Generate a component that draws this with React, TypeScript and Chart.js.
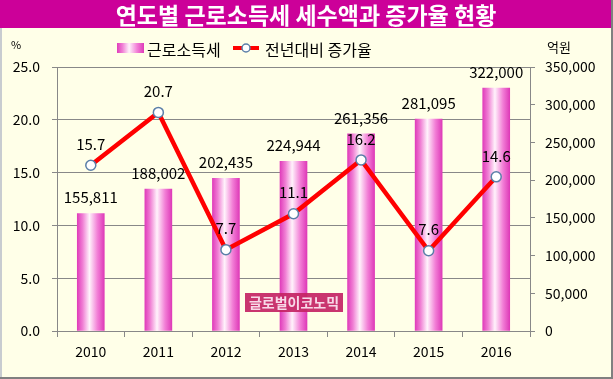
import { useEffect, useRef } from 'react';
import { Chart, registerables } from 'chart.js';

Chart.register(...registerables);

const categories = ['2010', '2011', '2012', '2013', '2014', '2015', '2016'];
const taxValues = [155811, 188002, 202435, 224944, 261356, 281095, 322000];
const growthRates = [15.7, 20.7, 7.7, 11.1, 16.2, 7.6, 14.6];
const taxLabel = '근로소득세';
const rateLabel = '전년대비 증가율';
const titleText = '연도별 근로소득세 세수액과 증가율 현황';
const leftUnit = '%';
const rightUnit = '억원';
const watermarkText = '글로벌이코노믹';

const FONT = '"Noto Sans CJK KR", "Noto Sans", sans-serif';
const W = 613;
const H = 379;
const BAR_W = 27;

function makeBarGradient(c: CanvasRenderingContext2D, x0: number, x1: number) {
  const g = c.createLinearGradient(x0, 0, x1, 0);
  g.addColorStop(0, '#E03DBB');
  g.addColorStop(0.2, '#F07FD4');
  g.addColorStop(0.45, '#FFF2FB');
  g.addColorStop(0.75, '#F27ED6');
  g.addColorStop(1, '#DE3AB8');
  return g;
}

const decorPlugin = {
  id: 'decor',
  beforeDraw(chart: any) {
    const c: CanvasRenderingContext2D = chart.ctx;
    c.save();
    c.fillStyle = '#FFFFE8';
    c.fillRect(0, 0, W, H);
    // title bar
    c.fillStyle = '#CC0099';
    c.fillRect(0, 0, W, 28);
    c.fillStyle = '#FFFFFF';
    c.font = `bold 23px ${FONT}`;
    c.textAlign = 'center';
    c.textBaseline = 'middle';
    c.fillText(titleText, 306, 15);
    // legend
    c.fillStyle = makeBarGradient(c, 117, 144);
    c.fillRect(117, 43, 27, 10);
    c.fillStyle = '#000';
    c.font = `16px ${FONT}`;
    c.textAlign = 'left';
    c.fillText(taxLabel, 147, 50);
    c.strokeStyle = '#FF0000';
    c.lineWidth = 4;
    c.beginPath();
    c.moveTo(233, 48);
    c.lineTo(259, 48);
    c.stroke();
    c.beginPath();
    c.arc(246, 48, 4, 0, Math.PI * 2);
    c.fillStyle = '#FFFFFF';
    c.fill();
    c.lineWidth = 1.5;
    c.strokeStyle = '#5B7FA8';
    c.stroke();
    c.fillStyle = '#000';
    c.fillText(rateLabel, 265, 50);
    // units
    c.font = `11px ${FONT}`;
    c.textAlign = 'center';
    c.fillText(leftUnit, 16, 45);
    c.font = `13px ${FONT}`;
    c.fillText(rightUnit, 559, 47);
    c.restore();
  },
  afterDatasetsDraw(chart: any) {
    const c: CanvasRenderingContext2D = chart.ctx;
    c.save();
    // watermark
    c.fillStyle = 'rgba(196,36,100,0.92)';
    c.fillRect(245, 293, 98, 19);
    c.fillStyle = '#F8D8E8';
    c.font = `bold 14px ${FONT}`;
    c.textAlign = 'center';
    c.textBaseline = 'middle';
    c.fillText(watermarkText, 294, 303);
    // labels
    c.fillStyle = '#000';
    c.font = `15px ${FONT}`;
    const barMeta = chart.getDatasetMeta(1);
    barMeta.data.forEach((el: any, i: number) => {
      c.fillText(taxValues[i].toLocaleString('en-US'), el.x, el.y - 16);
    });
    const lineMeta = chart.getDatasetMeta(0);
    lineMeta.data.forEach((el: any, i: number) => {
      c.fillText(growthRates[i].toFixed(1), el.x, el.y - 21);
    });
    c.restore();
  },
  afterDraw(chart: any) {
    const c: CanvasRenderingContext2D = chart.ctx;
    c.save();
    c.strokeStyle = '#C8CCD0';
    c.lineWidth = 2;
    c.beginPath();
    c.moveTo(1, 28);
    c.lineTo(1, H);
    c.stroke();
    c.strokeStyle = '#808080';
    c.beginPath();
    c.moveTo(W - 1, 0);
    c.lineTo(W - 1, H - 1);
    c.lineTo(0, H - 1);
    c.stroke();
    c.restore();
  },
};

export default function App() {
  const ref = useRef<HTMLCanvasElement>(null);
  useEffect(() => {
    if (!ref.current) return;
    const chart = new Chart(ref.current, {
      type: 'bar',
      data: {
        labels: categories,
        datasets: [
          {
            type: 'line',
            label: rateLabel,
            data: growthRates,
            yAxisID: 'y',
            borderColor: '#FF0000',
            borderWidth: 4.5,
            pointRadius: 5,
            pointBackgroundColor: '#FFFFFF',
            pointBorderColor: '#5B7FA8',
            pointBorderWidth: 1.5,
            tension: 0,
            order: 0,
          } as any,
          {
            type: 'bar',
            label: taxLabel,
            data: taxValues,
            yAxisID: 'y1',
            barThickness: BAR_W,
            backgroundColor: (ctx: any) => {
              const ch = ctx.chart;
              const xs = ch.scales && ch.scales.x;
              if (!xs || ctx.dataIndex === undefined) return '#E03DBB';
              const cx = xs.getPixelForValue(ctx.dataIndex);
              if (!Number.isFinite(cx)) return '#E03DBB';
              return makeBarGradient(ch.ctx, cx - BAR_W / 2, cx + BAR_W / 2);
            },
            order: 1,
          } as any,
        ],
      },
      options: {
        responsive: false,
        animation: false,
        layout: { padding: { top: 67, left: 0, right: 0, bottom: 0 } },
        plugins: {
          legend: { display: false },
          title: { display: false },
          tooltip: { enabled: false },
        },
        scales: {
          x: {
            grid: {
              offset: true,
              drawOnChartArea: false,
              tickLength: 6,
              color: '#888888',
            },
            border: { color: '#888888' },
            ticks: { color: '#000', font: { family: FONT, size: 14 }, padding: 6 },
            afterFit: (s: any) => {
              s.height = 48;
            },
          },
          y: {
            position: 'left',
            min: 0,
            max: 25,
            ticks: {
              stepSize: 5,
              color: '#000',
              font: { family: FONT, size: 14 },
              padding: 12,
              callback: (v: any) => Number(v).toFixed(1),
            },
            grid: { color: '#888888', tickLength: 5 },
            border: { color: '#888888' },
            afterFit: (s: any) => {
              s.width = 57;
            },
          },
          y1: {
            position: 'right',
            min: 0,
            max: 350000,
            ticks: {
              stepSize: 50000,
              color: '#000',
              font: { family: FONT, size: 14 },
              padding: 10,
              callback: (v: any) => Number(v).toLocaleString('en-US'),
            },
            grid: { drawOnChartArea: false, color: '#888888', tickLength: 5 },
            border: { color: '#888888' },
            afterFit: (s: any) => {
              s.width = 83;
            },
          },
        },
      },
      plugins: [decorPlugin],
    });
    return () => chart.destroy();
  }, []);
  return (
    <div style={{ position: 'fixed', left: 0, top: 0, width: W, height: H }}>
      <canvas ref={ref} width={W} height={H} style={{ display: 'block' }} />
    </div>
  );
}
